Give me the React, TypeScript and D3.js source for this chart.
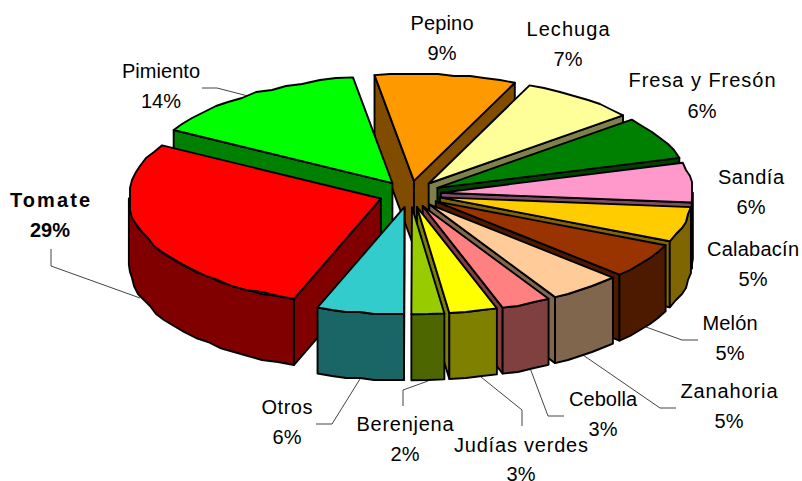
import * as d3 from 'd3';

const NAMES = ['Pepino', 'Lechuga', 'Fresa y Fresón', 'Sandía', 'Calabacín', 'Melón', 'Zanahoria', 'Cebolla', 'Judías verdes', 'Berenjena', 'Otros', 'Tomate', 'Pimiento'];
const SHARES = [9.1, 7.5, 6.5, 6, 5.3, 5.3, 4.7, 3.2, 3.1, 2.1, 5.6, 27.8, 14.3];
const PERCENT_LABELS = ['9%', '7%', '6%', '6%', '5%', '5%', '5%', '3%', '3%', '2%', '6%', '29%', '14%'];
const COLORS = ['#ff9900', '#ffff99', '#008000', '#ff99cc', '#ffcc00', '#993300', '#ffcc99', '#ff8080', '#ffff00', '#99cc00', '#33cccc', '#ff0000', '#00ff00'];

// label anchor: [x center, name baseline, percent baseline]
const LABEL_POS = [[442, 30, 60], [568, 36, 66], [702, 87, 118], [751, 184, 214], [753, 256, 286], [730, 330, 360], [729, 398, 428], [603, 406, 436], [521, 452, 481], [405, 431, 461], [287, 414, 444], [50, 207, 237], [161, 78, 108]];
// the original's text runs wider than the font's natural metrics in places
const NAME_WIDTHS = [63, 83, 147, 66, 92, 55, 97, 68, 134, 97, 51, 80, 78];
// leader lines, null where the label sits next to the slice
const LEADERS: (number[][] | null)[] = [
  null, null, null, null, null,
  [[698, 340], [682, 340], [646, 327]],
  [[676, 408], [660, 408], [583, 355]],
  [[564, 416], [548, 416], [530, 368]],
  [[522, 426], [522, 410], [481, 377]],
  [[403, 406], [403, 390], [428, 381]],
  [[316, 424], [332, 424], [360, 379]],
  [[51, 249], [51, 266], [140, 298]],
  [[202, 88], [217, 88], [248, 96]],
];

const WIDTH = 802;
const HEIGHT = 481;
const CX = 410;
const CY = 194;
const RX = 252;
const TILT = 0.425;
const EXPLODE = 31;
const DEPTH = 66;
const START = (-9 * Math.PI) / 180;

const half = (c: string) => {
  const r = d3.rgb(c);
  return d3.rgb(r.r / 2, r.g / 2, r.b / 2).formatHex();
};

// polar on the tilted plane, angle measured clockwise from the top
const project = (a: number, r: number): [number, number] => [r * Math.sin(a), -r * TILT * Math.cos(a)];

const arcs = d3.pie<number>().sort(null).startAngle(START).endAngle(START + Math.PI * 2)(SHARES);

// outer rim is a coarse rounded polyline, which gives the jagged look of the original
function rim(a0: number, a1: number, ox: number, oy: number) {
  const n = Math.max(2, Math.ceil(Math.abs(a1 - a0) / 0.07));
  return d3.range(n + 1).map((i) => {
    const a = a0 + ((a1 - a0) * i) / n;
    const [x, y] = project(a, RX);
    const px = ox + x;
    const py = oy + y;
    if (i === 0 || i === n) return [px, py] as [number, number];
    return [Math.round(px / 2) * 2, Math.round(py / 2) * 2] as [number, number];
  });
}

const line = d3.line().curve(d3.curveLinear);
const closed = (pts: [number, number][]) => line(pts) + 'Z';

const slices = arcs.map((d, i) => {
  const mid = (d.startAngle + d.endAngle) / 2;
  const [ex, ey] = project(mid, EXPLODE);
  const ox = CX + ex;
  const oy = CY + ey;
  const top = rim(d.startAngle, d.endAngle, ox, oy);
  const wallColor = half(COLORS[i]);
  const radial = (a: number) => {
    const [x, y] = project(a, RX);
    return closed([[ox, oy], [ox + x, oy + y], [ox + x, oy + y + DEPTH], [ox, oy + DEPTH]]);
  };
  const walls: string[] = [];
  if (Math.sin(d.startAngle) < -0.001) walls.push(radial(d.startAngle));
  if (Math.sin(d.endAngle) > 0.001) walls.push(radial(d.endAngle));
  // front part of the rim only
  const f0 = Math.max(d.startAngle, Math.PI / 2);
  const f1 = Math.min(d.endAngle, (3 * Math.PI) / 2);
  if (f1 > f0) {
    const upper = rim(f0, f1, ox, oy);
    const lower = rim(f1, f0, ox, oy + DEPTH);
    walls.push(closed([...upper, ...lower]));
  }
  return {
    key: NAMES[i],
    order: Math.cos(mid),
    color: COLORS[i],
    wallColor,
    walls,
    top: closed([[ox, oy], ...top]),
  };
});

const drawOrder = d3.sort(slices, (a, b) => b.order - a.order);

export default function App() {
  return (
    <svg
      width={WIDTH}
      height={HEIGHT}
      style={{ position: 'absolute', left: 0, top: 0, background: '#fff' }}
      fontFamily="'Liberation Sans', Arial, sans-serif"
    >
      {LEADERS.map((pts, i) =>
        pts ? <path key={i} d={line(pts as [number, number][]) as string} fill="none" stroke="#444" strokeWidth={1} /> : null,
      )}
      {drawOrder.map((s) => (
        <g key={s.key} stroke="#000" strokeWidth={1.9} strokeLinejoin="round">
          {s.walls.map((w, j) => (
            <path key={j} d={w} fill={s.wallColor} />
          ))}
          <path d={s.top} fill={s.color} />
        </g>
      ))}
      {NAMES.map((name, i) => (
        <g key={name} textAnchor="middle" fontSize={20} fontWeight={name === 'Tomate' ? 'bold' : 'normal'} fill="#000">
          <text x={LABEL_POS[i][0]} y={LABEL_POS[i][1]} textLength={NAME_WIDTHS[i]} lengthAdjust="spacing">{name}</text>
          <text x={LABEL_POS[i][0]} y={LABEL_POS[i][2]}>{PERCENT_LABELS[i]}</text>
        </g>
      ))}
    </svg>
  );
}
